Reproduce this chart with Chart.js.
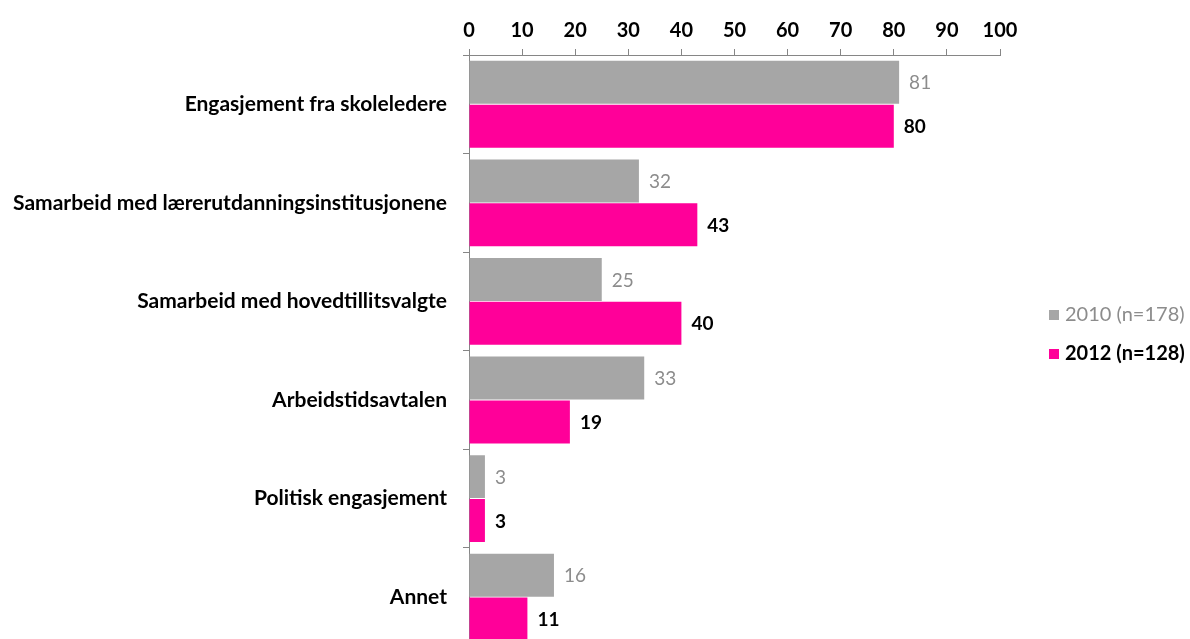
<!DOCTYPE html>
<html>
<head>
<meta charset="utf-8">
<script src="https://cdn.jsdelivr.net/npm/chart.js@4/dist/chart.umd.min.js"></script>
<style>
    html, body { margin: 0; padding: 0; background: #fff; overflow: hidden; }
    #wrap { position: relative; width: 1190px; height: 639px; overflow: hidden; }
    #legend { position: absolute; left: 1049px; top: 299px; font-family: Lato, sans-serif; font-size: 20px; }
    #legend div { height: 39px; line-height: 28px; white-space: nowrap; }
    #legend span.box { display: inline-block; width: 10px; height: 10px; margin-right: 6px; vertical-align: 1px; }
</style>
</head>
<body>
<div id="wrap">
    <canvas id="chart" width="1190" height="675"></canvas>
    <div id="legend">
        <div style="color:#8c8c8c"><span class="box" style="background:#a6a6a6"></span>2010 (n=178)</div>
        <div style="color:#000;font-weight:bold"><span class="box" style="background:#ff0099"></span>2012 (n=128)</div>
    </div>
</div>
<script>
// Categories and values
const categories = [
    'Engasjement fra skoleledere',
    'Samarbeid med lærerutdanningsinstitusjonene',
    'Samarbeid med hovedtillitsvalgte',
    'Arbeidstidsavtalen',
    'Politisk engasjement',
    'Annet'
];
const values2010 = [81, 32, 25, 33, 3, 16];
const values2012 = [80, 43, 40, 19, 3, 11];
const seriesLabels = ['2010 (n=178)', '2012 (n=128)'];

const FONT = 'Lato, sans-serif';
const AXIS_COLOR = '#868686';

// Value labels to the right of each bar
const valueLabels = {
    id: 'valueLabels',
    afterDatasetsDraw(chart) {
        const ctx = chart.ctx;
        ctx.save();
        ctx.textBaseline = 'middle';
        ctx.textAlign = 'left';
        chart.data.datasets.forEach((ds, i) => {
            const meta = chart.getDatasetMeta(i);
            ctx.font = (i === 1 ? 'bold ' : '') + '19px ' + FONT;
            ctx.fillStyle = i === 1 ? '#000' : '#8c8c8c';
            meta.data.forEach((bar, j) => {
                ctx.fillText(String(ds.data[j]), bar.x + 10, bar.y + 1);
            });
        });
        ctx.restore();
    }
};

new Chart(document.getElementById('chart'), {
    type: 'bar',
    data: {
        labels: categories,
        datasets: [
            { label: seriesLabels[0], data: values2010, backgroundColor: '#a6a6a6' },
            { label: seriesLabels[1], data: values2012, backgroundColor: '#ff0099' }
        ]
    },
    options: {
        indexAxis: 'y',
        responsive: false,
        animation: false,
        layout: { padding: { left: 0, right: 190, top: 0, bottom: 0 } },
        datasets: {
            bar: { categoryPercentage: 0.89, barPercentage: 0.98 }
        },
        plugins: {
            legend: { display: false },
            tooltip: { enabled: false }
        },
        scales: {
            x: {
                position: 'top',
                min: 0,
                max: 100,
                ticks: {
                    stepSize: 10,
                    color: '#000',
                    padding: 6,
                    font: { family: FONT, size: 20, weight: 'bold' }
                },
                grid: { drawOnChartArea: false, tickLength: 6, color: AXIS_COLOR },
                border: { color: AXIS_COLOR },
                afterFit(scale) { scale.height = 55; }
            },
            y: {
                ticks: {
                    color: '#000',
                    padding: 16,
                    font: { family: FONT, size: 21, weight: 'bold' }
                },
                grid: { drawOnChartArea: false, offset: true, tickLength: 6, color: AXIS_COLOR },
                border: { color: AXIS_COLOR },
                afterFit(scale) { scale.width = 469; }
            }
        }
    },
    plugins: [valueLabels]
});
</script>
</body>
</html>
